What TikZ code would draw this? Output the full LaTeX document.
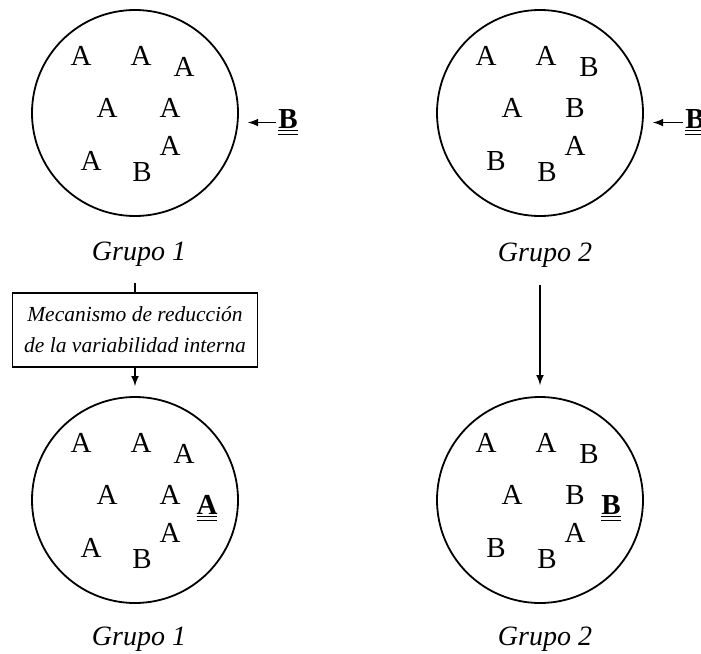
\documentclass[tikz,border=0pt]{standalone}
\usepackage{fontspec}
\setmainfont{Liberation Serif}
\usetikzlibrary{positioning}
\newcommand\dobleraya[1]{\underline{\underline{#1}}}
\begin{document}
\begin{tikzpicture}[
		x=0.5pt, y=-0.5pt,
		grupo/.style  = {draw, circle, line width=0.9pt, minimum size=103pt, inner sep=0pt},
		letra/.style  = {font=\fontsize{14.5}{16}\selectfont, inner sep=1pt},
		nueva/.style  = {letra, font=\fontsize{14.5}{16}\selectfont\bfseries, anchor=base},
		rotulo/.style = {font=\fontsize{14}{16}\selectfont\itshape, anchor=base},
		caja/.style   = {draw, line width=0.8pt, align=center, font=\fontsize{10.75}{15.5}\selectfont\itshape,
			minimum width=122.5pt, minimum height=37pt},
		flecha/.style = {->, line width=0.75pt},
		>=latex]
		
		\useasboundingbox (0,0) rectangle (701,653);
		
		% the four groups, before and after
		\node[grupo] (g1) at (135,113) {};
		\node[grupo] (g2) at (540,113) {};
		\node[grupo] (g3) at (135,500) {};
		\node[grupo] (g4) at (540,500) {};
		
		% members of each group
		\foreach \g in {g1, g3}
		\foreach \dx/\dy/\l [count=\i] in {-54/-57/A, 6/-57/A, 49/-46/A, -28/-5/A, 35/-5/A, -44/48/A, 7/59/B, 35/33/A}
		\node[letra] (\g-\i) at ([shift={(\dx,\dy)}]\g.center) {\l};
		
		\foreach \g in {g2, g4}
		\foreach \dx/\dy/\l [count=\i] in {-54/-57/A, 6/-57/A, 49/-46/B, -28/-5/A, 35/-5/B, -44/48/B, 7/59/B, 35/33/A}
		\node[letra] (\g-\i) at ([shift={(\dx,\dy)}]\g.center) {\l};
		
		% new member coming in, and where it ends up
		\node[nueva] (b1) at (288,128) {\dobleraya{B}};
		\node[nueva] (b2) at (695,128) {\dobleraya{B}};
		\node[nueva] (n3) at ([shift={(72,14)}]g3.center) {\dobleraya{A}};
		\node[nueva] (n4) at ([shift={(71,14)}]g4.center) {\dobleraya{B}};
		
		\draw[flecha, shorten >=4.5pt] (b1.west) -- (b1.west -| g1.east);
		\draw[flecha, shorten >=4.5pt] (b2.west) -- (b2.west -| g2.east);
		
		% group names
		\node[rotulo] (t1) at (139,260) {Grupo 1};
		\node[rotulo] (t2) at (545,261) {Grupo 2};
		\node[rotulo] (t3) at (139,645) {Grupo 1};
		\node[rotulo] (t4) at (545,645) {Grupo 2};
		
		% mechanism box on the left, plain arrow on the right
		\node[caja] (mec) at (135,330) {Mecanismo de reducción\\de la variabilidad interna};
		
		\draw[line width=0.75pt, shorten <=5pt] (mec.north |- t1.south) -- (mec.north);
		\draw[flecha, shorten >=5pt] (mec.south) -- (g3.north);
		\draw[flecha, shorten <=5.5pt, shorten >=5.5pt] (g4.north |- t2.south) -- (g4.north);
\end{tikzpicture}
\end{document}
